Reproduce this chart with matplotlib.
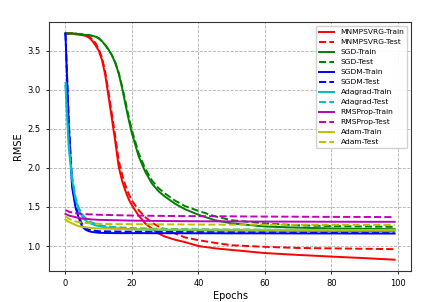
import matplotlib
matplotlib.use("Agg")
import matplotlib.pyplot as plt

epochs = [0, 1, 2, 3, 4, 5, 6, 7, 8, 9, 10, 11, 12, 13, 14, 15, 16, 17, 18, 19, 20,
          22, 24, 26, 28, 30, 33, 36, 40, 45, 50, 55, 60, 70, 80, 90, 99]

mnmp_train = [3.72, 3.72, 3.72, 3.71, 3.71, 3.70, 3.69, 3.67, 3.63, 3.57, 3.50, 3.38, 3.18,
              2.90, 2.62, 2.33, 2.02, 1.84, 1.71, 1.60, 1.52,
              1.39, 1.29, 1.22, 1.16, 1.12, 1.08, 1.05, 1.00, 0.97, 0.95, 0.93, 0.91,
              0.886, 0.865, 0.845, 0.825]
mnmp_test = [3.72, 3.72, 3.72, 3.71, 3.71, 3.70, 3.69, 3.68, 3.65, 3.60, 3.52, 3.41, 3.22,
             2.96, 2.68, 2.40, 2.10, 1.92, 1.78, 1.67, 1.58,
             1.46, 1.37, 1.30, 1.25, 1.21, 1.16, 1.11, 1.075, 1.04, 1.01, 1.00, 0.99,
             0.975, 0.97, 0.965, 0.96]
sgd_train = [3.72, 3.72, 3.72, 3.72, 3.71, 3.71, 3.70, 3.70, 3.69, 3.68, 3.66, 3.62, 3.57,
             3.51, 3.44, 3.34, 3.21, 3.03, 2.82, 2.62, 2.44,
             2.15, 1.95, 1.80, 1.70, 1.63, 1.54, 1.47, 1.40, 1.33, 1.29, 1.27, 1.25,
             1.235, 1.225, 1.22, 1.215]
sgd_test = [3.72, 3.72, 3.72, 3.72, 3.71, 3.71, 3.70, 3.70, 3.69, 3.68, 3.66, 3.62, 3.57,
            3.51, 3.44, 3.35, 3.22, 3.05, 2.86, 2.66, 2.48,
            2.19, 1.99, 1.84, 1.74, 1.67, 1.58, 1.51, 1.45, 1.38, 1.33, 1.31, 1.29,
            1.265, 1.255, 1.25, 1.245]
sgdm_train = [3.72, 2.55, 1.75, 1.50, 1.36, 1.25, 1.21, 1.19, 1.18, 1.175, 1.17, 1.168, 1.167,
              1.166, 1.166, 1.165, 1.165, 1.165, 1.165, 1.165, 1.165,
              1.165, 1.165, 1.164, 1.164, 1.164, 1.164, 1.163, 1.163, 1.163, 1.162, 1.162, 1.162,
              1.161, 1.161, 1.16, 1.16]
sgdm_test = [3.72, 2.60, 1.80, 1.53, 1.38, 1.28, 1.23, 1.21, 1.20, 1.195, 1.19, 1.189, 1.188,
             1.187, 1.187, 1.186, 1.186, 1.185, 1.185, 1.185, 1.185,
             1.184, 1.184, 1.184, 1.183, 1.183, 1.183, 1.182, 1.182, 1.182, 1.181, 1.181, 1.181,
             1.18, 1.18, 1.18, 1.18]
adagrad_train = [3.05, 2.25, 1.85, 1.60, 1.46, 1.38, 1.33, 1.30, 1.28, 1.265, 1.255, 1.247, 1.24,
                 1.235, 1.23, 1.227, 1.225, 1.222, 1.22, 1.218, 1.215,
                 1.212, 1.21, 1.208, 1.206, 1.205, 1.203, 1.202, 1.20, 1.198, 1.197, 1.196, 1.195,
                 1.193, 1.192, 1.191, 1.19]
adagrad_test = [3.10, 2.30, 1.90, 1.63, 1.49, 1.41, 1.36, 1.32, 1.30, 1.285, 1.27, 1.262, 1.255,
                1.25, 1.245, 1.242, 1.24, 1.237, 1.235, 1.232, 1.23,
                1.227, 1.225, 1.223, 1.221, 1.22, 1.218, 1.217, 1.215, 1.213, 1.212, 1.211, 1.21,
                1.208, 1.207, 1.206, 1.205]
rms_train = [1.41, 1.39, 1.38, 1.37, 1.36, 1.35, 1.35, 1.345, 1.34, 1.338, 1.335, 1.334, 1.333,
             1.332, 1.331, 1.33, 1.329, 1.328, 1.327, 1.326, 1.325,
             1.324, 1.323, 1.322, 1.321, 1.32, 1.319, 1.318, 1.317, 1.316, 1.315, 1.314, 1.313,
             1.312, 1.311, 1.31, 1.31]
rms_test = [1.46, 1.44, 1.43, 1.42, 1.415, 1.41, 1.408, 1.406, 1.405, 1.402, 1.40, 1.399, 1.398,
            1.397, 1.396, 1.395, 1.394, 1.393, 1.392, 1.391, 1.39,
            1.389, 1.388, 1.387, 1.386, 1.385, 1.384, 1.383, 1.382, 1.381, 1.38, 1.378, 1.377,
            1.375, 1.373, 1.372, 1.37]
adam_train = [1.34, 1.31, 1.29, 1.27, 1.255, 1.245, 1.24, 1.235, 1.23, 1.227, 1.225, 1.224, 1.223,
              1.222, 1.221, 1.22, 1.219, 1.218, 1.217, 1.216, 1.215,
              1.214, 1.214, 1.213, 1.213, 1.212, 1.212, 1.211, 1.21, 1.209, 1.208, 1.208, 1.207,
              1.206, 1.206, 1.205, 1.205]
adam_test = [1.38, 1.35, 1.33, 1.315, 1.305, 1.30, 1.295, 1.292, 1.29, 1.287, 1.285, 1.284, 1.283,
             1.282, 1.281, 1.28, 1.28, 1.28, 1.28, 1.28, 1.28,
             1.279, 1.279, 1.278, 1.278, 1.277, 1.277, 1.276, 1.275, 1.274, 1.274, 1.273, 1.273,
             1.272, 1.271, 1.27, 1.27]

series = [
    ("MNMPSVRG-Train", mnmp_train, "r", "-"),
    ("MNMPSVRG-Test", mnmp_test, "r", "--"),
    ("SGD-Train", sgd_train, "g", "-"),
    ("SGD-Test", sgd_test, "g", "--"),
    ("SGDM-Train", sgdm_train, "b", "-"),
    ("SGDM-Test", sgdm_test, "b", "--"),
    ("Adagrad-Train", adagrad_train, "c", "-"),
    ("Adagrad-Test", adagrad_test, "c", "--"),
    ("RMSProp-Train", rms_train, "m", "-"),
    ("RMSProp-Test", rms_test, "m", "--"),
    ("Adam-Train", adam_train, "y", "-"),
    ("Adam-Test", adam_test, "y", "--"),
]

fig = plt.figure(figsize=(4.26, 3.02), dpi=100)
ax = fig.add_axes([0.115, 0.1026, 0.85, 0.824])
for label, vals, col, ls in series:
    ax.plot(epochs, vals, color=col, linestyle=ls, linewidth=1.4, label=label)

ax.set_xticks([0, 20, 40, 60, 80, 100])
ax.set_yticks([1.0, 1.5, 2.0, 2.5, 3.0, 3.5])
ax.tick_params(labelsize=6, length=2.5, width=0.6)
ax.set_xlabel("Epochs", fontsize=7, labelpad=2)
ax.set_ylabel("RMSE", fontsize=7, labelpad=3)
ax.grid(True, linestyle="--", color="#b0b0b0", linewidth=0.6)
for s in ax.spines.values():
    s.set_linewidth(0.8)
    s.set_color("#333333")
ax.legend(loc="upper right", fontsize=5.4, borderaxespad=0.5, framealpha=0.9)
fig.savefig("out.png", dpi=100)
